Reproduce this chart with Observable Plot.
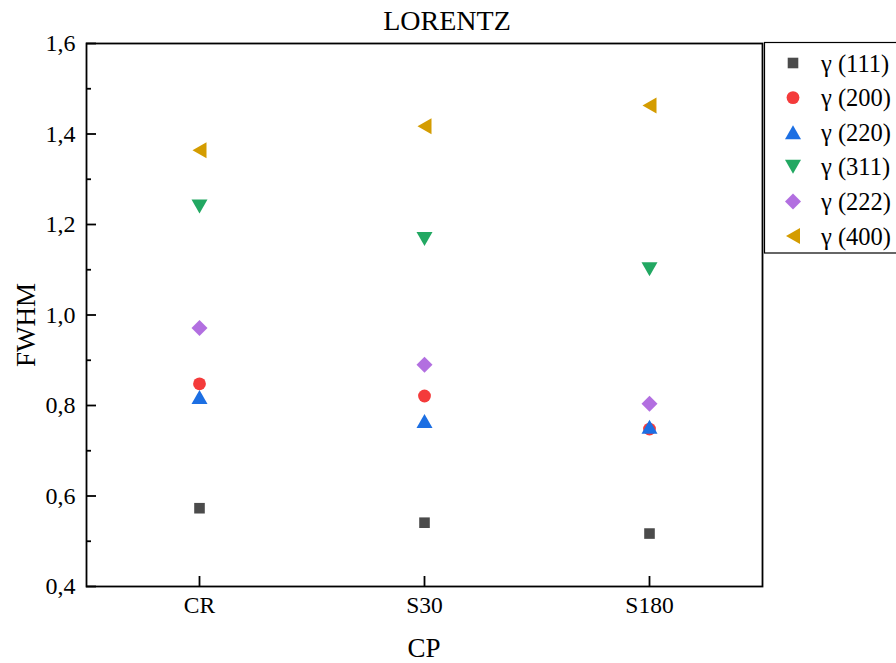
<!DOCTYPE html>
<html>
<head>
<meta charset="utf-8">
<script src="https://cdn.jsdelivr.net/npm/d3@7"></script>
<script src="https://cdn.jsdelivr.net/npm/@observablehq/plot@0.6"></script>
<style>
  html, body { margin: 0; padding: 0; background: white; }
  #chart { position: relative; width: 896px; height: 663px; }
</style>
</head>
<body>
<div id="chart"></div>
<script>
// ---- data ----
const categories = ["CR", "S30", "S180"];
const seriesNames = ["γ (111)", "γ (200)", "γ (220)", "γ (311)", "γ (222)", "γ (400)"];
const g111 = [0.573, 0.541, 0.517];
const g200 = [0.848, 0.821, 0.748];
const g220 = [0.819, 0.766, 0.753];
const g311 = [1.240, 1.168, 1.101];
const g222 = [0.971, 0.890, 0.804];
const g400 = [1.364, 1.417, 1.463];
const yMajorTicks = [0.4, 0.6, 0.8, 1.0, 1.2, 1.4, 1.6];
const yMinorTicks = [0.5, 0.7, 0.9, 1.1, 1.3, 1.5];
const title = "LORENTZ";
const xLabel = "CP";
const yLabel = "FWHM";

const seriesValues = [g111, g200, g220, g311, g222, g400];
const colors = ["#4b4b4b", "#f43b3b", "#1c6fe3", "#22a862", "#b26fe0", "#d49c00"];

// custom symbols (fixed sizes like the original)
const sqSym = {draw(c) { const h = 5.3; c.rect(-h, -h, 2 * h, 2 * h); }};
const ciSym = {draw(c) { c.moveTo(6.4, 0); c.arc(0, 0, 6.4, 0, 2 * Math.PI); }};
const upSym = {draw(c) { c.moveTo(0, -7); c.lineTo(8, 7); c.lineTo(-8, 7); c.closePath(); }};
const dnSym = {draw(c) { c.moveTo(0, 7); c.lineTo(8, -7); c.lineTo(-8, -7); c.closePath(); }};
const diSym = {draw(c) { c.moveTo(0, -8); c.lineTo(8, 0); c.lineTo(0, 8); c.lineTo(-8, 0); c.closePath(); }};
const lfSym = {draw(c) { c.moveTo(-7, 0); c.lineTo(7, -8); c.lineTo(7, 8); c.closePath(); }};
const symbols = [sqSym, ciSym, upSym, dnSym, diSym, lfSym];

const data = seriesNames.flatMap((s, i) =>
  categories.map((c, j) => ({cp: c, series: s, v: seriesValues[i][j]})));

const fmt = d => d.toFixed(1).replace(".", ",");

const plot = Plot.plot({
  width: 896,
  height: 663,
  marginTop: 43,
  marginLeft: 86,
  marginRight: 134,
  marginBottom: 77,
  style: {fontFamily: "'Liberation Serif', 'Times New Roman', serif", fontSize: "23px", color: "black", background: "white", overflow: "visible"},
  x: {type: "point", domain: categories, padding: 0.5},
  y: {domain: [0.4, 1.6]},
  color: {domain: seriesNames, range: colors},
  symbol: {domain: seriesNames, range: symbols},
  marks: [
    Plot.axisY({ticks: yMinorTicks, tickSize: -5, tickFormat: () => "", strokeWidth: 1.8, label: null}),
    Plot.axisY({ticks: yMajorTicks, tickSize: -10, tickPadding: 21, tickFormat: fmt, strokeWidth: 1.8, label: null, fontSize: 24}),
    Plot.axisX({tickSize: -10, tickPadding: 20, strokeWidth: 1.8, label: null, fontSize: 23.5}),
    Plot.frame({stroke: "black", strokeWidth: 1.8}),
    Plot.dot(data, {x: "cp", y: "v", symbol: "series", fill: "series", r: 6, stroke: "none"})
  ]
});

document.getElementById("chart").appendChild(plot);

const svg = d3.select(plot);
const font = "'Liberation Serif', 'Times New Roman', serif";

// title and axis labels
svg.append("text").attr("x", 447).attr("y", 30).attr("text-anchor", "middle")
  .attr("font-family", font).attr("font-size", 28).attr("fill", "black").text(title);
svg.append("text").attr("x", 424).attr("y", 657).attr("text-anchor", "middle")
  .attr("font-family", font).attr("font-size", 27).attr("fill", "black").text(xLabel);
svg.append("text").attr("transform", "translate(35,325) rotate(-90)").attr("text-anchor", "middle")
  .attr("font-family", font).attr("font-size", 27).attr("fill", "black").text(yLabel);

// legend
const lg = svg.append("g");
lg.append("rect").attr("x", 764.5).attr("y", 42.5).attr("width", 140).attr("height", 210.5)
  .attr("fill", "white").attr("stroke", "black").attr("stroke-width", 1.2);
seriesNames.forEach((s, i) => {
  const y = 63 + i * 34.6;
  lg.append("path").attr("d", d3.symbol().type(symbols[i])()).attr("transform", `translate(793,${y})`)
    .attr("fill", colors[i]);
  lg.append("text").attr("x", 821).attr("y", y).attr("dy", "0.35em").attr("text-anchor", "start")
    .attr("font-family", font).attr("font-size", 24.5).attr("fill", "black").text(s);
});
</script>
</body>
</html>
